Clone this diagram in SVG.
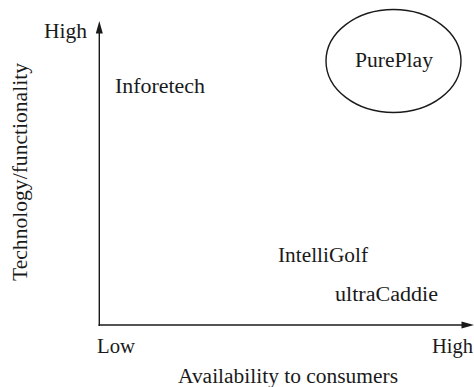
<svg xmlns="http://www.w3.org/2000/svg" width="474" height="387" viewBox="0 0 474 387">
<style>
text{font-family:"Liberation Serif","Times New Roman",serif;font-size:20px;fill:#1a1a1a}
.ax{stroke:#1a1a1a;stroke-width:1.4;fill:none}
.ah{fill:#1a1a1a}
</style>
<rect width="474" height="387" fill="#fff"/>
<g id="connectors">
<line class="ax" x1="99.3" y1="326" x2="99.3" y2="31"/>
<polygon class="ah" points="99.3,21 102.8,33.5 95.8,33.5"/>
<line class="ax" x1="98.6" y1="325" x2="464" y2="325"/>
<polygon class="ah" points="474,325 461.5,321.5 461.5,328.5"/>
</g>
<g id="axis-labels">
<text x="44" y="37.5" textLength="43" lengthAdjust="spacingAndGlyphs">High</text>
<text x="97" y="353" textLength="38" lengthAdjust="spacingAndGlyphs">Low</text>
<text x="432" y="353" textLength="41" lengthAdjust="spacingAndGlyphs">High</text>
<text x="178" y="383" textLength="220" lengthAdjust="spacingAndGlyphs">Availability to consumers</text>
<text transform="translate(27,281) rotate(-90)" x="0" y="0" textLength="218" lengthAdjust="spacingAndGlyphs">Technology/functionality</text>
</g>
<g id="node-pureplay">
<ellipse class="ax" cx="393.5" cy="61" rx="67.5" ry="51.5"/>
<text x="355" y="67" textLength="78" lengthAdjust="spacingAndGlyphs">PurePlay</text>
</g>
<g id="node-inforetech">
<text x="115" y="92.5" textLength="90" lengthAdjust="spacingAndGlyphs">Inforetech</text>
</g>
<g id="node-intelligolf">
<text x="278" y="262" textLength="90" lengthAdjust="spacingAndGlyphs">IntelliGolf</text>
</g>
<g id="node-ultracaddie">
<text x="335" y="301" textLength="103" lengthAdjust="spacingAndGlyphs">ultraCaddie</text>
</g>
</svg>
